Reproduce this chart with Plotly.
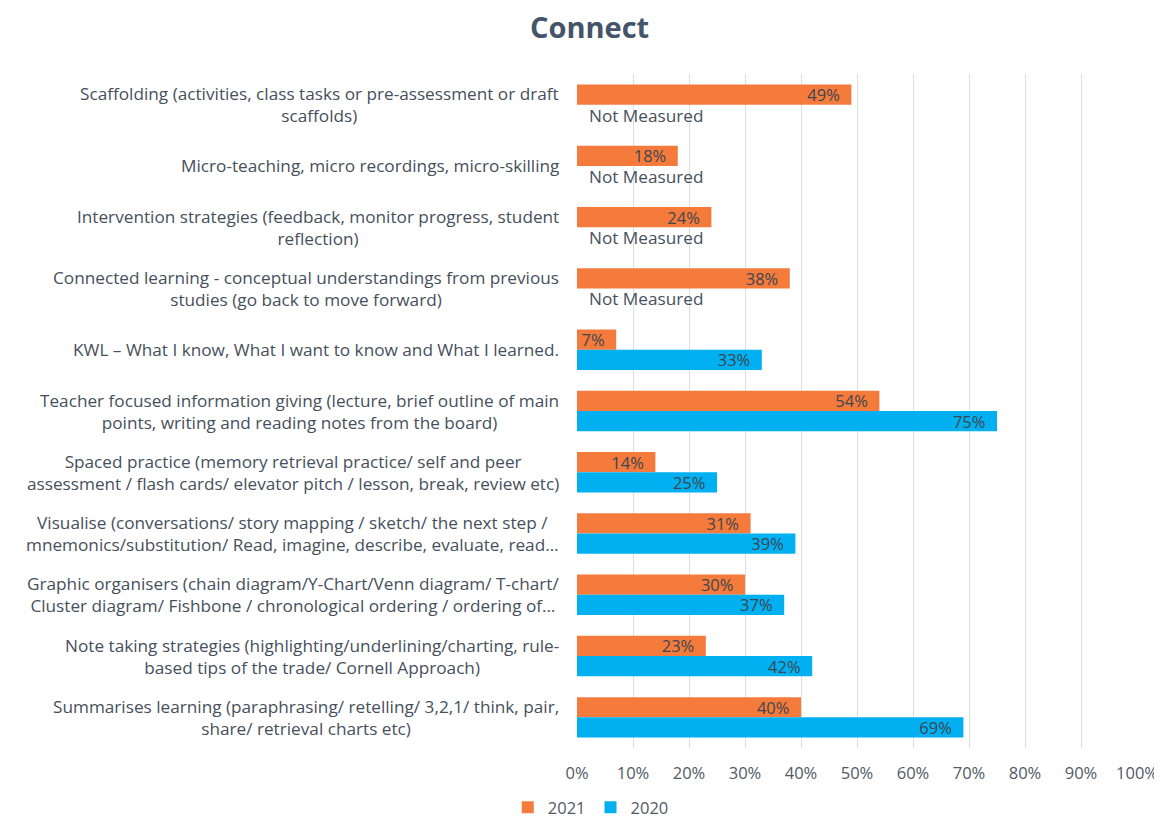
import plotly.graph_objects as go

categories = [
    "Scaffolding (activities, class tasks or pre-assessment or draft<br>scaffolds)",
    "Micro-teaching, micro recordings, micro-skilling",
    "Intervention strategies (feedback, monitor progress, student<br>reflection)",
    "Connected learning - conceptual understandings from previous<br>studies (go back to move forward)",
    "KWL – What I know, What I want to know and What I learned.",
    "Teacher focused information giving (lecture, brief outline of main<br>points, writing and reading notes from the board)",
    "Spaced practice (memory retrieval practice/ self and peer<br>assessment / flash cards/ elevator pitch / lesson, break, review etc)",
    "Visualise (conversations/ story mapping / sketch/ the next step /<br>mnemonics/substitution/ Read, imagine, describe, evaluate, read…",
    "Graphic organisers (chain diagram/Y-Chart/Venn diagram/ T-chart/<br>Cluster diagram/ Fishbone / chronological ordering / ordering of…",
    "Note taking strategies (highlighting/underlining/charting, rule-<br>based tips of the trade/ Cornell Approach)",
    "Summarises learning (paraphrasing/ retelling/ 3,2,1/ think, pair,<br>share/ retrieval charts etc)",
]
ids = [f"c{i}" for i in range(len(categories))]
values_2021 = [49, 18, 24, 38, 7, 54, 14, 31, 30, 23, 40]
values_2020 = [None, None, None, None, 33, 75, 25, 39, 37, 42, 69]
not_measured_label = "Not Measured"
x_ticks = list(range(0, 101, 10))

FONT = "Open Sans"
TXT = "#46505C"
PAD = "\u00a0\u00a0"

fig = go.Figure()
fig.add_trace(go.Bar(
    name="2021", y=ids, x=values_2021, orientation="h",
    marker=dict(color="#F47B3B", line=dict(width=0)),
    text=[f"{v}%{PAD}" for v in values_2021], textposition="inside",
    insidetextanchor="end", constraintext="none",
    textfont=dict(family=FONT, size=16.5, color="#3E4650"),
))
fig.add_trace(go.Bar(
    name="2020", y=ids, x=values_2020, orientation="h",
    marker=dict(color="#00B0F0", line=dict(width=0)),
    text=[f"{v}%{PAD}" if v is not None else "" for v in values_2020], textposition="inside",
    insidetextanchor="end", constraintext="none",
    textfont=dict(family=FONT, size=16.5, color="#3E4650"),
))

annotations = []
for cid, lab in zip(ids, categories):
    annotations.append(dict(
        xref="paper", yref="y", x=0, y=cid, text=lab, showarrow=False,
        xanchor="right", xshift=-16, align="center",
        font=dict(family=FONT, size=17.2, color=TXT),
    ))
for cid, v in zip(ids, values_2020):
    if v is None:
        annotations.append(dict(
            xref="x", yref="y", x=0, y=cid, text=not_measured_label, showarrow=False,
            xanchor="left", xshift=10, yshift=-10.5,
            font=dict(family=FONT, size=17.2, color=TXT),
        ))

fig.update_layout(
    width=1154, height=817,
    margin=dict(l=569, r=25, t=66, b=77, autoexpand=False),
    paper_bgcolor="white", plot_bgcolor="white",
    barmode="group", bargap=0.34, bargroupgap=0,
    title=dict(text="<b>Connect</b>", x=0.504, xanchor="center",
               yref="container", y=1 - 20 / 817, yanchor="middle",
               font=dict(family=FONT, size=29, color="#44546A")),
    xaxis=dict(range=[0, 100], tickvals=x_ticks, ticktext=[f"{t}%" for t in x_ticks],
               showgrid=True, gridcolor="#D9DEE6", gridwidth=1, zeroline=False,
               showline=False, ticks="", ticklabelstandoff=13, automargin=False,
               tickfont=dict(family=FONT, size=16.5, color="#505A66")),
    yaxis=dict(autorange="reversed", showticklabels=False, showgrid=False,
               zeroline=False, ticks="", automargin=False),
    legend=dict(orientation="h", xref="container", yref="container",
                x=0.505, xanchor="center", y=0.0, yanchor="bottom",
                font=dict(family=FONT, size=16.5, color="#505A66"),
                itemwidth=30, traceorder="normal"),
    annotations=annotations,
    showlegend=True,
)

fig.write_html("out.html")
